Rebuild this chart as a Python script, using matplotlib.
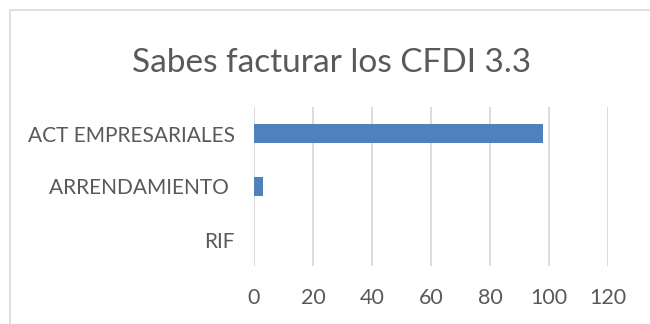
import matplotlib
matplotlib.use("Agg")
import matplotlib.pyplot as plt
from matplotlib.patches import Rectangle

# datos de la encuesta
categorias = ["RIF", "ARRENDAMIENTO ", "ACT EMPRESARIALES"]
valores = [0, 3, 98]
ticks_x = [0, 20, 40, 60, 80, 100, 120]
titulo = "Sabes facturar los CFDI 3.3"

plt.rcParams['font.family'] = ['Lato', 'DejaVu Sans']
gris = "#595959"

fig = plt.figure(figsize=(6.5, 3.24), dpi=100)
fig.patch.set_facecolor("white")

# marco del grafico (se sale por la derecha y abajo)
marco = Rectangle((10 / 650, -0.1), 1.2, 1 - 10 / 324 + 0.1, transform=fig.transFigure,
                  fill=False, edgecolor="#d9d9d9", linewidth=1.2)
fig.patches.append(marco)

ax = fig.add_axes([254 / 650, 58 / 324, 354 / 650, 159 / 324])
ax.barh(range(len(categorias)), valores, height=0.34, color="#4f81bd",
        linewidth=0, zorder=3)

ax.set_xlim(0, 120)
ax.set_ylim(-0.5, len(categorias) - 0.5)
ax.set_xticks(ticks_x)
ax.set_yticks(range(len(categorias)))
ax.set_yticklabels(categorias)
ax.grid(axis="x", color="#d9d9d9", linewidth=1.3, zorder=0)
ax.tick_params(length=0, labelsize=15, colors=gris)
ax.tick_params(axis="x", labelsize=15.5, pad=16)
ax.tick_params(axis="y", pad=14)
for s in ax.spines.values():
    s.set_visible(False)

fig.text(332 / 650, 1 - 63 / 324, titulo, ha="center", va="center",
         fontsize=24, color=gris)

fig.savefig("out.png", dpi=100)
